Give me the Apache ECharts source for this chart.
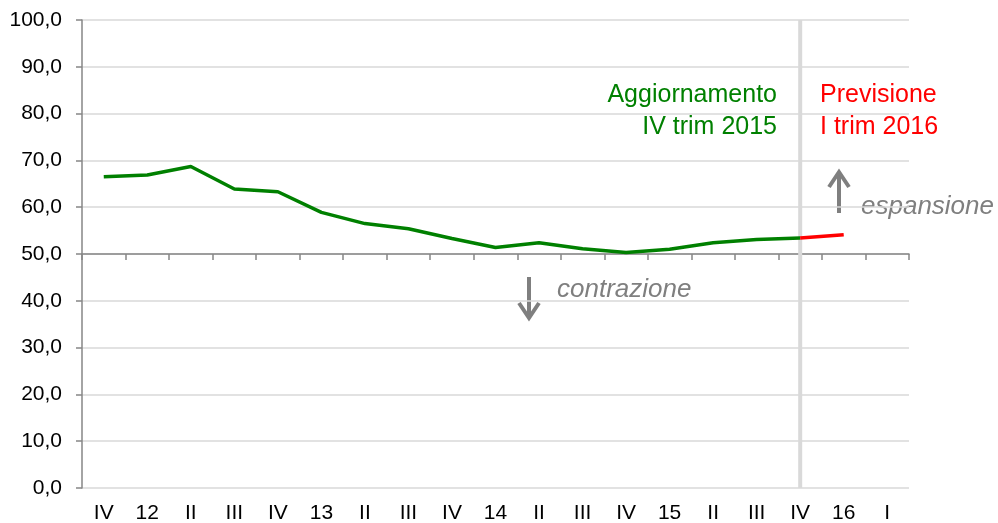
<!DOCTYPE html>
<html>
<head>
<meta charset="utf-8">
<script src="https://cdn.jsdelivr.net/npm/echarts@6/dist/echarts.min.js"></script>
<style>html,body{margin:0;padding:0;background:#fff}#c{width:998px;height:523px}</style>
</head>
<body>
<div id="c"></div>
<script>
const categories = ['IV','12','II','III','IV','13','II','III','IV','14','II','III','IV','15','II','III','IV','16','I'];
const updateValues = [66.5, 66.9, 68.7, 63.9, 63.3, 58.9, 56.5, 55.4, 53.3, 51.4, 52.4, 51.1, 50.3, 51.0, 52.4, 53.1, 53.4, null, null];
const forecastValues = [null, null, null, null, null, null, null, null, null, null, null, null, null, null, null, null, 53.4, 54.1, null];
const yTicks = [0, 10, 20, 30, 40, 50, 60, 70, 80, 90, 100];
const threshold = 50;
const separatorPosition = 16;
const labelUpdate = ['Aggiornamento', 'IV trim 2015'];
const labelForecast = ['Previsione', 'I trim 2016'];
const labelUp = 'espansione';
const labelDown = 'contrazione';

const FONT = '"Liberation Sans", Arial, sans-serif';
const chart = echarts.init(document.getElementById('c'), null, {renderer: 'canvas'});
const gridLeft = 82, gridRight = 89, gridTop = 20, gridBottom = 35;
const plotH = 523 - gridTop - gridBottom;
const midBottom = gridBottom + plotH * (threshold - yTicks[0]) / (yTicks[yTicks.length-1] - yTicks[0]);

chart.setOption({
  animation: false,
  backgroundColor: '#ffffff',
  grid: [
    {left: gridLeft, right: gridRight, top: gridTop, bottom: gridBottom, outerBoundsMode: 'none', containLabel: false},
    {left: gridLeft, right: gridRight, top: gridTop, bottom: midBottom, outerBoundsMode: 'none', containLabel: false}
  ],
  xAxis: [
    {type: 'category', data: categories, gridIndex: 0, boundaryGap: true,
     axisLine: {show: false}, axisTick: {show: false},
     axisLabel: {color: '#000', fontFamily: FONT, fontSize: 21, margin: 15}},
    {type: 'category', data: categories, gridIndex: 1, boundaryGap: true, position: 'bottom',
     axisLine: {show: true, lineStyle: {color: '#868686', width: 1.5}},
     axisTick: {show: true, length: 6, inside: false, lineStyle: {color: '#868686', width: 1.5}},
     axisLabel: {show: false}},
    {type: 'value', gridIndex: 0, min: -0.5, max: categories.length - 0.5, show: false}
  ],
  yAxis: [
    {type: 'value', gridIndex: 0, min: yTicks[0], max: yTicks[yTicks.length-1], interval: 10,
     axisLine: {show: true, onZero: false, lineStyle: {color: '#868686', width: 1.5}},
     axisTick: {show: true, length: 6, lineStyle: {color: '#868686', width: 1.5}},
     splitLine: {show: true, lineStyle: {color: '#d9d9d9', width: 1.5}},
     axisLabel: {color: '#000', fontFamily: FONT, fontSize: 21, margin: 20,
       formatter: v => v.toFixed(1).replace('.', ',')}},
    {type: 'value', gridIndex: 1, min: 0, max: 1, show: false}
  ],
  series: [
    {type: 'line', xAxisIndex: 2, yAxisIndex: 0, data: [[separatorPosition, 0], [separatorPosition, 100]],
     symbol: 'none', lineStyle: {color: '#d9d9d9', width: 4}, z: 1, silent: true},
    {type: 'line', xAxisIndex: 0, yAxisIndex: 0, data: updateValues, symbol: 'none',
     lineStyle: {color: '#008000', width: 3.5}, z: 3},
    {type: 'line', xAxisIndex: 0, yAxisIndex: 0, data: forecastValues, symbol: 'none',
     lineStyle: {color: '#ff0000', width: 3.5}, z: 3}
  ],
  graphic: [
    {type: 'text', right: 998 - 777, top: 83, style: {text: labelUpdate[0], fill: '#008000', font: '25px ' + FONT}},
    {type: 'text', right: 998 - 777, top: 115, style: {text: labelUpdate[1], fill: '#008000', font: '25px ' + FONT}},
    {type: 'text', left: 820, top: 83, style: {text: labelForecast[0], fill: '#ff0000', font: '25px ' + FONT}},
    {type: 'text', left: 820, top: 115, style: {text: labelForecast[1], fill: '#ff0000', font: '25px ' + FONT}},
    {type: 'text', left: 861, top: 194, style: {text: labelUp, fill: '#7f7f7f', font: 'italic 26px ' + FONT}},
    {type: 'text', left: 557, top: 277, style: {text: labelDown, fill: '#7f7f7f', font: 'italic 26px ' + FONT}},
    {type: 'line', shape: {x1: 839, y1: 213, x2: 839, y2: 172}, style: {stroke: '#7f7f7f', lineWidth: 4}},
    {type: 'polyline', shape: {points: [[829, 187], [839, 172], [849, 187]]}, style: {stroke: '#7f7f7f', lineWidth: 4, fill: null}},
    {type: 'line', shape: {x1: 529, y1: 277, x2: 529, y2: 318}, style: {stroke: '#7f7f7f', lineWidth: 4}},
    {type: 'polyline', shape: {points: [[519, 303], [529, 318], [539, 303]]}, style: {stroke: '#7f7f7f', lineWidth: 4, fill: null}}
  ]
});
</script>
</body>
</html>
